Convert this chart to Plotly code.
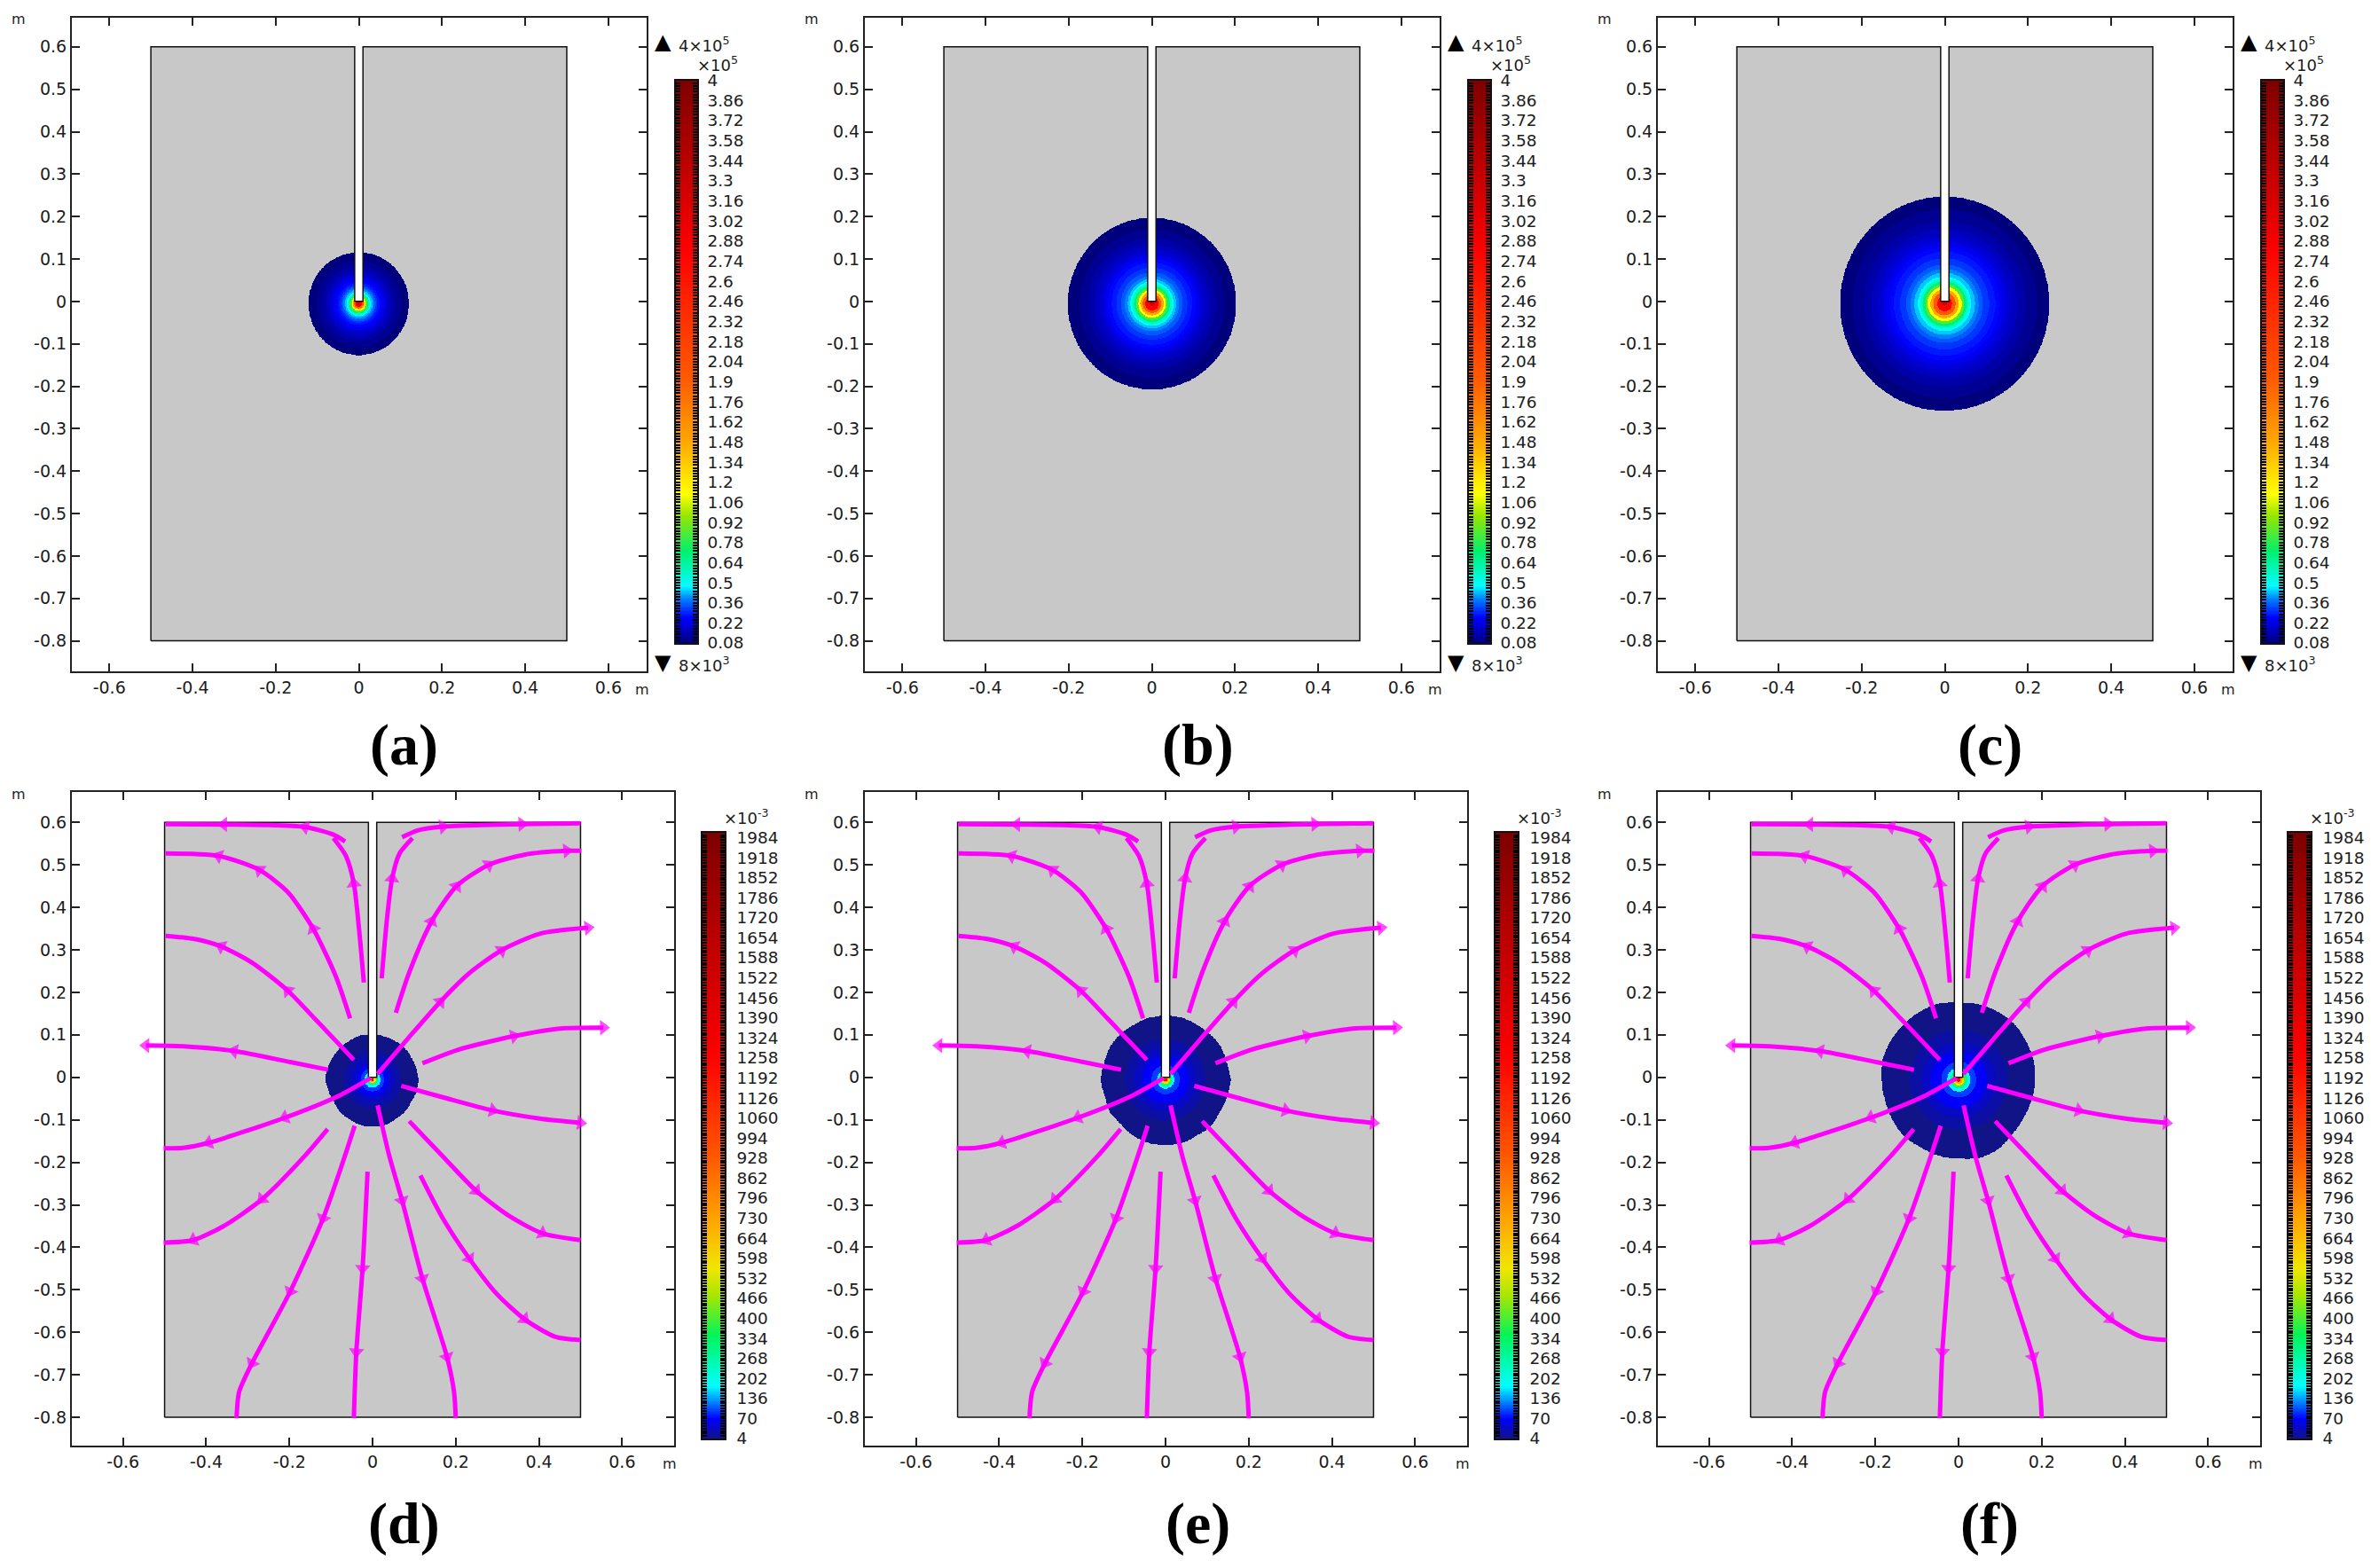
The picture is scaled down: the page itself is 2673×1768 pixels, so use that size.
import numpy as np
import plotly.graph_objects as go

W, H = 2673, 1768

# ---------- values ----------
x_ticks = [-0.6, -0.4, -0.2, 0, 0.2, 0.4, 0.6]
x_tick_text = ["-0.6", "-0.4", "-0.2", "0", "0.2", "0.4", "0.6"]
y_ticks = [0.6, 0.5, 0.4, 0.3, 0.2, 0.1, 0, -0.1, -0.2, -0.3, -0.4, -0.5, -0.6, -0.7, -0.8]
y_tick_text = ["0.6", "0.5", "0.4", "0.3", "0.2", "0.1", "0", "-0.1", "-0.2", "-0.3", "-0.4", "-0.5", "-0.6", "-0.7", "-0.8"]

domain_x = [-0.5, 0.5, 0.5, 0.01, 0.01, -0.01, -0.01, -0.5, -0.5]
domain_y = [-0.8, -0.8, 0.6, 0.6, 0.0, 0.0, 0.6, 0.6, -0.8]

top_labels = ["0.08", "0.22", "0.36", "0.5", "0.64", "0.78", "0.92", "1.06", "1.2", "1.34", "1.48", "1.62", "1.76", "1.9",
              "2.04", "2.18", "2.32", "2.46", "2.6", "2.74", "2.88", "3.02", "3.16", "3.3", "3.44", "3.58", "3.72", "3.86", "4"]
bot_labels = ["4", "70", "136", "202", "268", "334", "400", "466", "532", "598", "664", "730", "796", "862", "928", "994",
              "1060", "1126", "1192", "1258", "1324", "1390", "1456", "1522", "1588", "1654", "1720", "1786", "1852", "1918", "1984"]

top_scale = [[0, "rgb(0,0,125)"], [0.045, "rgb(0,0,255)"], [0.079, "rgb(0,130,255)"], [0.102, "rgb(0,255,255)"],
             [0.163, "rgb(0,240,110)"], [0.226, "rgb(150,230,0)"], [0.265, "rgb(255,255,0)"], [0.36, "rgb(255,165,0)"],
             [0.47, "rgb(255,90,0)"], [0.697, "rgb(255,0,0)"], [1, "rgb(125,0,0)"]]
bot_scale = [[0, "rgb(16,20,135)"], [0.032, "rgb(0,0,255)"], [0.057, "rgb(0,120,255)"], [0.086, "rgb(0,255,255)"],
             [0.169, "rgb(0,245,90)"], [0.237, "rgb(170,230,0)"], [0.281, "rgb(240,230,0)"], [0.354, "rgb(255,170,0)"],
             [0.462, "rgb(255,90,0)"], [0.63, "rgb(255,0,0)"], [1, "rgb(125,0,0)"]]

levels_top = [0.08, 0.11, 0.14, 0.17, 0.20, 0.23, 0.26, 0.28, 0.31, 0.35, 0.39, 0.44, 0.50, 0.58, 0.70, 0.86, 1.12, 1.49, 1.96, 2.81, 3.3]
radii_a = [.121, .102, .088, .078, .070, .063, .056, .050, .045, .041, .037, .033, .029, .026, .023, .021, .017, .014, .011, .008, .003]
radii_b = [.202, .174, .154, .139, .126, .115, .106, .097, .085, .074, .065, .058, .052, .048, .043, .038, .033, .028, .022, .016, .005]
radii_c = [.252, .222, .195, .176, .160, .146, .133, .122, .107, .092, .082, .073, .064, .058, .053, .047, .041, .034, .027, .018, .005]

levels_bot = [4, 20, 36, 64, 94, 176, 283, 403, 563, 703, 1240]
radii_d = [.110, .069, .053, .039, .028, .019, .013, .010, .008, .005, .003]
radii_e = [.154, .096, .075, .057, .034, .021, .016, .013, .010, .007, .004]
radii_f = [.185, .117, .089, .068, .042, .028, .021, .017, .013, .009, .005]

# outline of the dark patch, relative radius every 15 degrees from +x, counter-clockwise
edge_d = [1.0, 0.99, 0.97, 0.98, 0.96, 0.96, 0.96, 0.98, 0.97, 0.98, 0.99, 1.01, 1.03, 0.99, 0.97, 0.99, 0.98, 1.0, 1.0, 1.01, 0.98, 0.99, 0.97, 1.0]
edge_e = [1.02, 0.99, 1.0, 0.98, 0.97, 0.98, 0.97, 0.98, 0.97, 0.99, 1.0, 0.99, 1.01, 0.98, 1.0, 0.97, 0.99, 1.0, 0.99, 1.0, 0.98, 1.0, 0.98, 1.0]
edge_f = [0.99, 1.0, 1.0, 1.01, 1.0, 0.99, 0.98, 1.0, 1.0, 1.0, 1.01, 1.02, 1.0, 0.99, 1.0, 1.01, 0.99, 1.0, 1.0, 1.03, 1.02, 0.98, 0.97, 0.98]

# magnetic streamlines (x, y, indices carrying an arrow head)
s01 = ([-0.066, -0.094, -0.162, -0.260, -0.358, -0.498], [0.555, 0.571, 0.589, 0.594, 0.595, 0.596], [2, 4])
s02 = ([0.071, 0.108, 0.169, 0.359, 0.500], [0.565, 0.581, 0.590, 0.596, 0.598], [2, 3])
s03 = ([-0.021, -0.032, -0.045, -0.064, -0.094], [0.223, 0.344, 0.456, 0.521, 0.563], [2])
s04 = ([0.022, 0.034, 0.047, 0.065, 0.096], [0.233, 0.367, 0.468, 0.527, 0.563], [2])
s05 = ([-0.054, -0.088, -0.143, -0.204, -0.272, -0.370, -0.498], [0.139, 0.237, 0.350, 0.436, 0.488, 0.521, 0.527], [2, 4, 5])
s06 = ([0.056, 0.089, 0.142, 0.202, 0.279, 0.365, 0.467, 0.502], [0.152, 0.249, 0.367, 0.450, 0.500, 0.524, 0.533, 0.533], [2, 3, 4, 6])
s07 = ([-0.045, -0.137, -0.204, -0.290, -0.364, -0.431, -0.498], [0.041, 0.136, 0.204, 0.270, 0.308, 0.326, 0.333], [2, 4])
s08 = ([0.012, 0.083, 0.163, 0.230, 0.310, 0.402, 0.518], [0.008, 0.089, 0.178, 0.243, 0.299, 0.338, 0.352], [2, 4, 6])
s09 = ([-0.107, -0.198, -0.333, -0.455, -0.545], [0.018, 0.036, 0.062, 0.073, 0.075], [2, 4])
s10 = ([0.120, 0.206, 0.340, 0.451, 0.555], [0.033, 0.065, 0.097, 0.115, 0.117], [2, 4])
s11 = ([-0.005, -0.076, -0.211, -0.394, -0.455, -0.502], [-0.002, -0.041, -0.095, -0.154, -0.166, -0.167], [2, 3])
s12 = ([0.069, 0.169, 0.289, 0.402, 0.500], [-0.020, -0.047, -0.078, -0.097, -0.107], [2, 4])
s13 = ([-0.108, -0.162, -0.266, -0.358, -0.431, -0.502], [-0.122, -0.184, -0.287, -0.350, -0.383, -0.389], [2, 4])
s14 = ([0.088, 0.163, 0.249, 0.328, 0.408, 0.500], [-0.103, -0.180, -0.267, -0.326, -0.367, -0.383], [2, 4])
s15 = ([-0.043, -0.070, -0.119, -0.198, -0.290, -0.321, -0.327], [-0.114, -0.195, -0.332, -0.504, -0.673, -0.741, -0.802], [2, 3, 4])
s16 = ([0.012, 0.040, 0.071, 0.120, 0.179, 0.196, 0.200], [-0.066, -0.184, -0.290, -0.474, -0.658, -0.741, -0.802], [2, 3, 4])
s17 = ([-0.012, -0.024, -0.039, -0.045], [-0.222, -0.450, -0.646, -0.802], [1, 2])
s18 = ([0.115, 0.169, 0.233, 0.298, 0.365, 0.438, 0.500], [-0.231, -0.332, -0.427, -0.509, -0.569, -0.610, -0.618], [2, 4])
streamlines = [s01, s02, s03, s04, s05, s06, s07, s08, s09, s10, s11, s12, s13, s14, s15, s16, s17, s18]

captions = ["(a)", "(b)", "(c)", "(d)", "(e)", "(f)"]
# ---------------------------------------------------

DX = 894
FONT = "DejaVu Sans"
TXT = "#1c1c1c"
FIELD_CY = -0.005


def field(radii, levels, edge=None):
    step = 0.00125
    lim = radii[0] * 1.06
    xs = np.arange(-lim, lim + step, step)
    ys = np.arange(-lim + FIELD_CY, lim + FIELD_CY + step, step)
    gx, gy = np.meshgrid(xs, ys)
    r = np.hypot(gx, gy - FIELD_CY)
    rad = np.array(radii)
    idx = np.sum(r[..., None] <= rad[None, None, :], axis=-1) - 1
    z = np.array(levels, dtype=float)[np.clip(idx, 0, len(levels) - 1)]
    outer = rad[0]
    if edge is not None:
        th = np.degrees(np.arctan2(gy - FIELD_CY, gx)) % 360
        angs = np.arange(0, 375, 15)
        outer = rad[0] * np.interp(th, angs, list(edge) + [edge[0]])
    z[r > outer] = np.nan
    z[(np.abs(gx) < 0.01) & (gy > 0)] = np.nan
    return xs, ys, z


fig = go.Figure()
layout = dict(width=W, height=H, margin=dict(l=0, r=0, t=0, b=0, autoexpand=False), paper_bgcolor="white", plot_bgcolor="white",
              showlegend=False, font=dict(family=FONT, size=18, color=TXT), shapes=[], annotations=[])


def dom_x(l, r):
    return [l / W, r / W]


def dom_y(t, b):
    return [1 - b / H, 1 - t / H]


def note(px, py, text, size=18, anchor="left", family=FONT, color=TXT):
    layout["annotations"].append(dict(xref="paper", yref="paper", x=px / W, y=1 - py / H, text=text, showarrow=False,
                                      xanchor=anchor, yanchor="middle", font=dict(family=family, size=size, color=color),
                                      borderpad=0))


def panel(n, col, row):
    off = col * DX
    if row == 0:
        l, r, t, b = 81 + off, 729 + off, 20.3, 757
        xr, yr = [-0.690, 0.692], [-0.872, 0.668]
    else:
        l, r, t, b = 81 + off, 759.5 + off, 893, 1629.7
        xr, yr = [-0.723, 0.724], [-0.866, 0.6715]
    common = dict(showgrid=False, zeroline=False, showline=True, linecolor="#222", linewidth=2, mirror="ticks",
                  ticks="inside", ticklen=9, tickwidth=1.6, tickcolor="#222",
                  tickfont=dict(family=FONT, size=19, color=TXT), tickmode="array")
    layout[f"xaxis{n}"] = dict(domain=dom_x(l, r), range=xr, anchor=f"y{n}", tickvals=x_ticks, ticktext=x_tick_text, **common)
    layout[f"yaxis{n}"] = dict(domain=dom_y(t, b), range=yr, anchor=f"x{n}", tickvals=y_ticks, ticktext=y_tick_text, **common)
    path = "M " + " L ".join(f"{a} {c}" for a, c in zip(domain_x, domain_y)) + " Z"
    layout["shapes"].append(dict(type="path", path=path, xref=f"x{n}", yref=f"y{n}", layer="below",
                                 fillcolor="#c8c8c8", line=dict(width=0)))
    if row == 0:
        note(21 + off - 9, 22, "m", 16)
        note(724 + off - 9, 777, "m", 16)
    else:
        note(21 + off - 9, 895, "m", 16)
        note(755 + off - 9, 1650, "m", 16)


def colorbar(n, col, row):
    off = col * DX
    if row == 0:
        l, r, t, b = 762 + off, 786 + off, 90.5, 725
        lo, hi, scale, labels, tick_step, every, standoff = 0.08, 4.0, top_scale, top_labels, 0.02, 7, 6
    else:
        l, r, t, b = 792 + off, 817 + off, 939, 1622
        lo, hi, scale, labels, tick_step, every, standoff = 4, 2000, bot_scale, bot_labels, 8.25, 8, 8
    dense = [round(lo + k * tick_step, 4) for k in range(int((hi - lo) / tick_step) + 1)]
    text = [labels[k // every] if k % every == 0 and k // every < len(labels) else "" for k in range(len(dense))]
    ramp = np.linspace(lo, hi, 500)
    fig.add_trace(go.Heatmap(x=[0, 1], y=ramp, z=np.column_stack([ramp, ramp]), colorscale=scale, zmin=lo, zmax=hi,
                             showscale=False, hoverinfo="skip", xaxis=f"x{n}", yaxis=f"y{n}"))
    layout[f"xaxis{n}"] = dict(domain=dom_x(l, r), range=[0, 1], anchor=f"y{n}", showgrid=False, zeroline=False,
                               showticklabels=False, ticks="", showline=True, linecolor="#111", linewidth=1.5, mirror=True)
    layout[f"yaxis{n}"] = dict(domain=dom_y(t, b), range=[lo, hi], anchor=f"x{n}", side="right", showgrid=False,
                               zeroline=False, showline=True, linecolor="#111", linewidth=1.5, mirror="ticks",
                               ticks="inside", ticklen=5, tickwidth=1.6, tickcolor="#000", tickmode="array", tickvals=dense,
                               ticktext=text, ticklabelstandoff=standoff, tickfont=dict(family=FONT, size=18.5, color=TXT))
    if row == 0:
        note(747 + off, 47, "▲", 24, "center", color="#000")
        note(764 + off, 50, "4×10<sup>5</sup>")
        note(785 + off, 72, "×10<sup>5</sup>")
        note(747 + off, 747, "▼", 24, "center", color="#000")
        note(764 + off, 749, "8×10<sup>3</sup>")
    else:
        note(815 + off, 921, "×10<sup>-3</sup>")


sets = [(radii_a, None), (radii_b, None), (radii_c, None), (radii_d, edge_d), (radii_e, edge_e), (radii_f, edge_f)]
cap_x = [455, 1350, 2243]
for i, (radii, edge) in enumerate(sets):
    row, col = divmod(i, 3)
    n = i + 1
    panel(n, col, row)
    levels = levels_top if row == 0 else levels_bot
    scale = top_scale if row == 0 else bot_scale
    zlo, zhi = (0.08, 4.0) if row == 0 else (4, 2000)
    xs, ys, z = field(radii, levels, edge)
    fig.add_trace(go.Heatmap(x=xs, y=ys, z=z, colorscale=scale, zmin=zlo, zmax=zhi, showscale=False, hoverinfo="skip",
                             xaxis=f"x{n}", yaxis=f"y{n}"))
    fig.add_trace(go.Scatter(x=domain_x, y=domain_y, mode="lines", line=dict(color="#111", width=1.5), hoverinfo="skip",
                             xaxis=f"x{n}", yaxis=f"y{n}"))
    if row == 1:
        for sx, sy, heads in streamlines:
            sizes = [15 if k in heads else 0 for k in range(len(sx))]
            fig.add_trace(go.Scatter(x=sx, y=sy, mode="lines+markers",
                                     line=dict(color="#ff00ff", width=5, shape="spline", smoothing=0.7),
                                     marker=dict(symbol="triangle-up", size=sizes, color="#ff00ff", angleref="previous",
                                                 line=dict(width=0)),
                                     hoverinfo="skip", xaxis=f"x{n}", yaxis=f"y{n}"))
    note(cap_x[col], 840 if row == 0 else 1718, f"<b>{captions[i]}</b>", 66, "center", "Liberation Serif", "#000")

for i in range(6):
    row, col = divmod(i, 3)
    colorbar(7 + i, col, row)

fig.update_layout(**layout)
fig.write_html("out.html", config={"displayModeBar": False}, post_script="document.body.style.margin='0';")
